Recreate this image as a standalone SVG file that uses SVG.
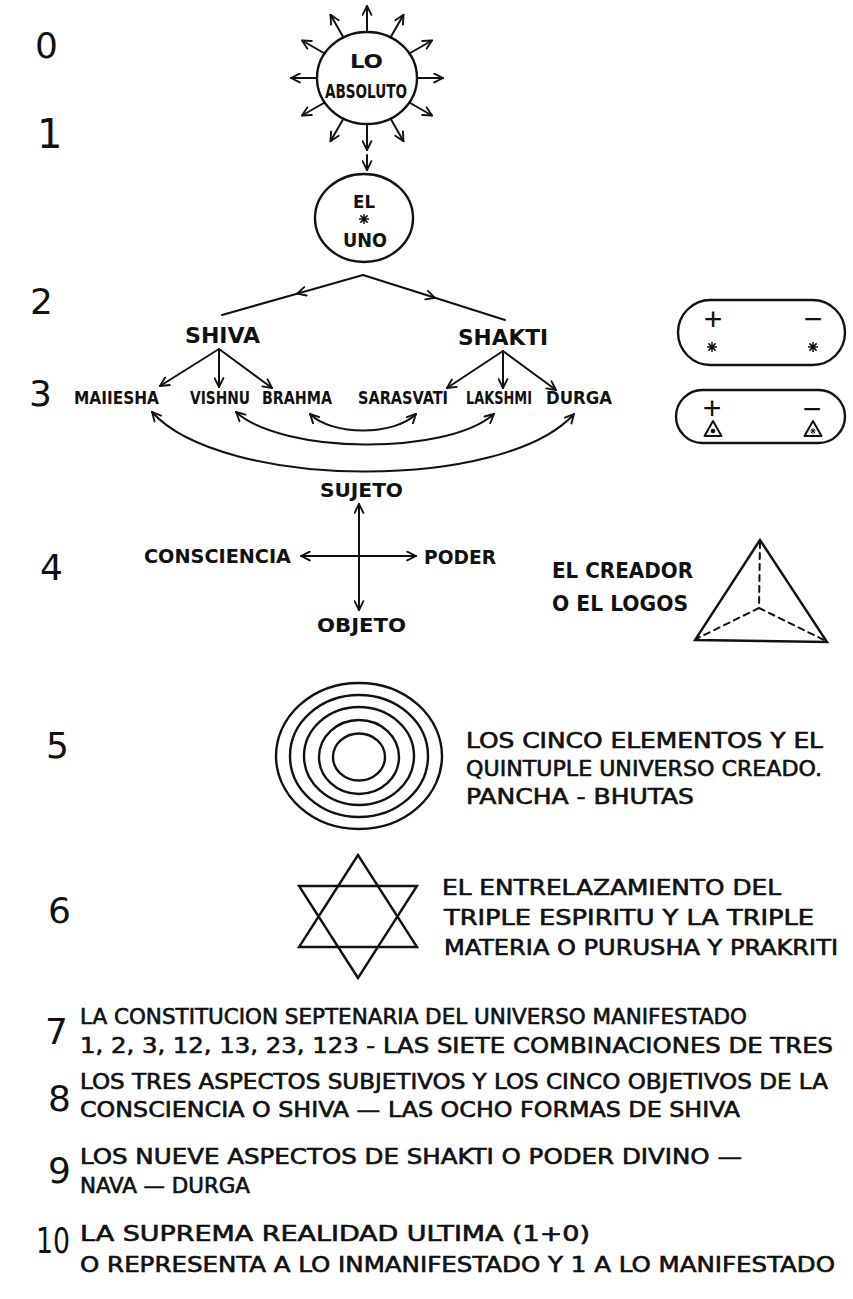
<svg xmlns="http://www.w3.org/2000/svg" width="853" height="1299" viewBox="0 0 853 1299">
<defs>
<style>
.ln{fill:none;stroke:#111;stroke-width:2;stroke-linecap:round;stroke-linejoin:round}
.sh{fill:none;stroke:#111;stroke-width:2.4}
.ar{marker-end:url(#ah)}
.ar2{marker-start:url(#ah);marker-end:url(#ah)}
.mid{marker-mid:url(#ah)}
.lbl{font-family:"DejaVu Sans Condensed","DejaVu Sans","Liberation Sans",sans-serif;font-weight:bold;fill:#111}
.txt{font-family:"DejaVu Sans Condensed","DejaVu Sans","Liberation Sans",sans-serif;font-weight:normal;fill:#111;stroke:#111;stroke-width:0.6}
.num{font-family:"DejaVu Sans","Liberation Sans",sans-serif;font-weight:normal;fill:#111;font-size:36px}
.sym{font-family:"Liberation Sans","DejaVu Sans",sans-serif;font-weight:normal;fill:#111;font-size:32px;text-anchor:middle}
.dash{stroke-dasharray:6 5}
</style>
<marker id="ah" viewBox="0 0 10 10" refX="9" refY="5" markerWidth="11" markerHeight="11" markerUnits="userSpaceOnUse" orient="auto-start-reverse">
<path d="M1,1 L9,5 L1,9" fill="none" stroke="#111" stroke-width="1.7" stroke-linecap="round" stroke-linejoin="round"/>
</marker>
<g id="astk"><path d="M0,-5V5M-5,0H5M-3.6,-3.6L3.6,3.6M-3.6,3.6L3.6,-3.6" fill="none" stroke="#111" stroke-width="1.5"/></g>
</defs>
<rect width="853" height="1299" fill="#fff"/>

<g id="row-numbers">
<text class="num" x="35" y="58" font-size="34">0</text>
<text class="num" x="37" y="148" style="font-size:40px">1</text>
<text class="num" x="30" y="314">2</text>
<text class="num" x="29" y="406">3</text>
<text class="num" x="40" y="580">4</text>
<text class="num" x="46" y="758">5</text>
<text class="num" x="48" y="923">6</text>
<text class="num" x="45" y="1044">7</text>
<text class="num" x="48" y="1111">8</text>
<text class="num" x="48" y="1183">9</text>
<text class="num" x="36" y="1253" textLength="34" lengthAdjust="spacingAndGlyphs">10</text>
</g>

<g id="lo-absoluto">
<ellipse class="sh" cx="367" cy="78" rx="50" ry="46"/>
<text class="lbl" x="350" y="68" font-size="20" textLength="33" lengthAdjust="spacingAndGlyphs">LO</text>
<text class="lbl" x="325" y="98" font-size="20" textLength="82" lengthAdjust="spacingAndGlyphs">ABSOLUTO</text>
</g>

<g id="el-uno">
<ellipse class="sh" cx="364" cy="218" rx="49" ry="44"/>
<text class="lbl" x="353" y="208" font-size="18" textLength="22" lengthAdjust="spacingAndGlyphs">EL</text>
<use href="#astk" transform="translate(364,219)"/>
<text class="lbl" x="343" y="247" font-size="19" textLength="44" lengthAdjust="spacingAndGlyphs">UNO</text>
</g>

<g id="shiva"><text class="lbl" x="185" y="343" font-size="22" textLength="75" lengthAdjust="spacingAndGlyphs">SHIVA</text></g>
<g id="shakti"><text class="lbl" x="458" y="345" font-size="22" textLength="90" lengthAdjust="spacingAndGlyphs">SHAKTI</text></g>

<g id="polarity-1">
<rect class="sh" x="678" y="300" width="167" height="65" rx="32.5"/>
<text class="sym" x="713" y="330">+</text>
<text class="sym" x="813" y="330">−</text>
<use href="#astk" transform="translate(712,347)"/>
<use href="#astk" transform="translate(813,347)"/>
</g>

<g id="polarity-2">
<rect class="sh" x="676" y="390" width="169" height="53" rx="26.5"/>
<text class="sym" x="712" y="419">+</text>
<text class="sym" x="812" y="420">−</text>
<path class="ln" d="M713,421 L704.5,436 L721.5,436 Z" stroke-width="1.8"/>
<circle cx="713" cy="431" r="2.3" fill="#111"/>
<path class="ln" d="M813,421 L804.5,436 L821.5,436 Z" stroke-width="1.8"/>
<path d="M813,428V434M810.5,431H815.5M811,429L815,433M811,433L815,429" stroke="#111" stroke-width="1"/>
</g>

<g id="mahesha"><text class="lbl" x="74" y="404" font-size="18" textLength="85" lengthAdjust="spacingAndGlyphs">MAIIESHA</text></g>
<g id="vishnu"><text class="lbl" x="190" y="404" font-size="18" textLength="60" lengthAdjust="spacingAndGlyphs">VISHNU</text></g>
<g id="brahma"><text class="lbl" x="262" y="404" font-size="18" textLength="70" lengthAdjust="spacingAndGlyphs">BRAHMA</text></g>
<g id="sarasvati"><text class="lbl" x="358" y="404" font-size="18" textLength="90" lengthAdjust="spacingAndGlyphs">SARASVATI</text></g>
<g id="lakshmi"><text class="lbl" x="466" y="404" font-size="18" textLength="66" lengthAdjust="spacingAndGlyphs">LAKSHMI</text></g>
<g id="durga"><text class="lbl" x="546" y="404" font-size="18" textLength="66" lengthAdjust="spacingAndGlyphs">DURGA</text></g>

<g id="sujeto"><text class="lbl" x="320" y="497" font-size="20" textLength="83" lengthAdjust="spacingAndGlyphs">SUJETO</text></g>
<g id="consciencia"><text class="lbl" x="144" y="563" font-size="20" textLength="147" lengthAdjust="spacingAndGlyphs">CONSCIENCIA</text></g>
<g id="poder"><text class="lbl" x="424" y="564" font-size="20" textLength="72" lengthAdjust="spacingAndGlyphs">PODER</text></g>
<g id="objeto"><text class="lbl" x="317" y="632" font-size="20" textLength="89" lengthAdjust="spacingAndGlyphs">OBJETO</text></g>

<g id="creador">
<text class="lbl" x="552" y="578" font-size="21" textLength="141" lengthAdjust="spacingAndGlyphs">EL CREADOR</text>
<text class="lbl" x="552" y="611" font-size="21" textLength="136" lengthAdjust="spacingAndGlyphs">O EL LOGOS</text>
<path class="sh" d="M760,540 L695,640 L827,642 Z" stroke-linejoin="miter"/>
<path class="ln dash" d="M760,542 L759,608 M759,608 L698,638 M759,608 L824,640" stroke-width="1.7"/>
</g>

<g id="cinco-elementos">
<ellipse class="sh" cx="359" cy="756" rx="83" ry="73"/>
<ellipse class="sh" cx="359" cy="756" rx="69" ry="61"/>
<ellipse class="sh" cx="359" cy="756" rx="55" ry="49"/>
<ellipse class="sh" cx="359" cy="757" rx="40" ry="37"/>
<ellipse class="sh" cx="359" cy="757" rx="26" ry="23.5"/>
<text class="txt" x="466" y="748" font-size="22" textLength="357" lengthAdjust="spacingAndGlyphs">LOS CINCO ELEMENTOS Y EL</text>
<text class="txt" x="466" y="776" font-size="22" textLength="356" lengthAdjust="spacingAndGlyphs">QUINTUPLE UNIVERSO CREADO.</text>
<text class="txt" x="466" y="804" font-size="22" textLength="228" lengthAdjust="spacingAndGlyphs">PANCHA - BHUTAS</text>
</g>

<g id="entrelazamiento">
<path class="sh" d="M358,855 L299,947 L417,947 Z" stroke-linejoin="miter"/>
<path class="sh" d="M358,978 L299,886 L417,886 Z" stroke-linejoin="miter"/>
<text class="txt" x="442" y="895" font-size="22" textLength="339" lengthAdjust="spacingAndGlyphs">EL ENTRELAZAMIENTO DEL</text>
<text class="txt" x="444" y="925" font-size="22" textLength="370" lengthAdjust="spacingAndGlyphs">TRIPLE ESPIRITU Y LA TRIPLE</text>
<text class="txt" x="444" y="955" font-size="22" textLength="394" lengthAdjust="spacingAndGlyphs">MATERIA O PURUSHA Y PRAKRITI</text>
</g>

<g id="septenaria">
<text class="txt" x="80" y="1024" font-size="22" textLength="667" lengthAdjust="spacingAndGlyphs">LA CONSTITUCION SEPTENARIA DEL UNIVERSO MANIFESTADO</text>
<text class="txt" x="80" y="1053" font-size="22" textLength="753" lengthAdjust="spacingAndGlyphs">1, 2, 3, 12, 13, 23, 123 - LAS SIETE COMBINACIONES DE TRES</text>
</g>
<g id="ocho-formas">
<text class="txt" x="80" y="1089" font-size="22" textLength="748" lengthAdjust="spacingAndGlyphs">LOS TRES ASPECTOS SUBJETIVOS Y LOS CINCO OBJETIVOS DE LA</text>
<text class="txt" x="80" y="1117" font-size="22" textLength="660" lengthAdjust="spacingAndGlyphs">CONSCIENCIA O SHIVA — LAS OCHO FORMAS DE SHIVA</text>
</g>
<g id="nava-durga">
<text class="txt" x="80" y="1164" font-size="22" textLength="662" lengthAdjust="spacingAndGlyphs">LOS NUEVE ASPECTOS DE SHAKTI O PODER DIVINO —</text>
<text class="txt" x="80" y="1193" font-size="22" textLength="170" lengthAdjust="spacingAndGlyphs">NAVA — DURGA</text>
</g>
<g id="suprema">
<text class="txt" x="80" y="1241" font-size="22" textLength="510" lengthAdjust="spacingAndGlyphs">LA SUPREMA REALIDAD ULTIMA (1+0)</text>
<text class="txt" x="80" y="1272" font-size="22" textLength="755" lengthAdjust="spacingAndGlyphs">O REPRESENTA A LO INMANIFESTADO Y 1 A LO MANIFESTADO</text>
</g>

<g id="connectors">
<g class="ln ar">
<path d="M367,32 L367,6"/>
<path d="M390.5,37.4 L403.5,14.8"/>
<path d="M409.3,53.5 L432,40.5"/>
<path d="M417,78 L443,78"/>
<path d="M409.3,102.5 L432,115.5"/>
<path d="M390.5,118.6 L403.5,141.2"/>
<path d="M367,124 L367,150"/>
<path d="M343.5,118.6 L330.5,141.2"/>
<path d="M324.7,102.5 L302,115.5"/>
<path d="M317,78 L291,78"/>
<path d="M324.7,53.5 L302,40.5"/>
<path d="M343.5,37.4 L330.5,14.8"/>
<path d="M367,155 L367,170"/>
<path d="M219,349 L160,386"/>
<path d="M219,349 L219,387"/>
<path d="M219,349 L272,388"/>
<path d="M503,351 L447,388"/>
<path d="M503,351 L503,388"/>
<path d="M503,351 L556,390"/>
</g>
<path class="ln mid" d="M363,275 L297,293.7 L222,315"/>
<path class="ln mid" d="M363,275 L435,297.8 L505,320"/>
<g class="ln ar2">
<path d="M152,412 C222,490 504,492 574,414"/>
<path d="M236,412 C282,454 446,456 494,414"/>
<path d="M310,414 C332,436 394,436 416,414"/>
<path d="M359,504 L359,610"/>
<path d="M301,556 L416,556"/>
</g>
</g>
</svg>
